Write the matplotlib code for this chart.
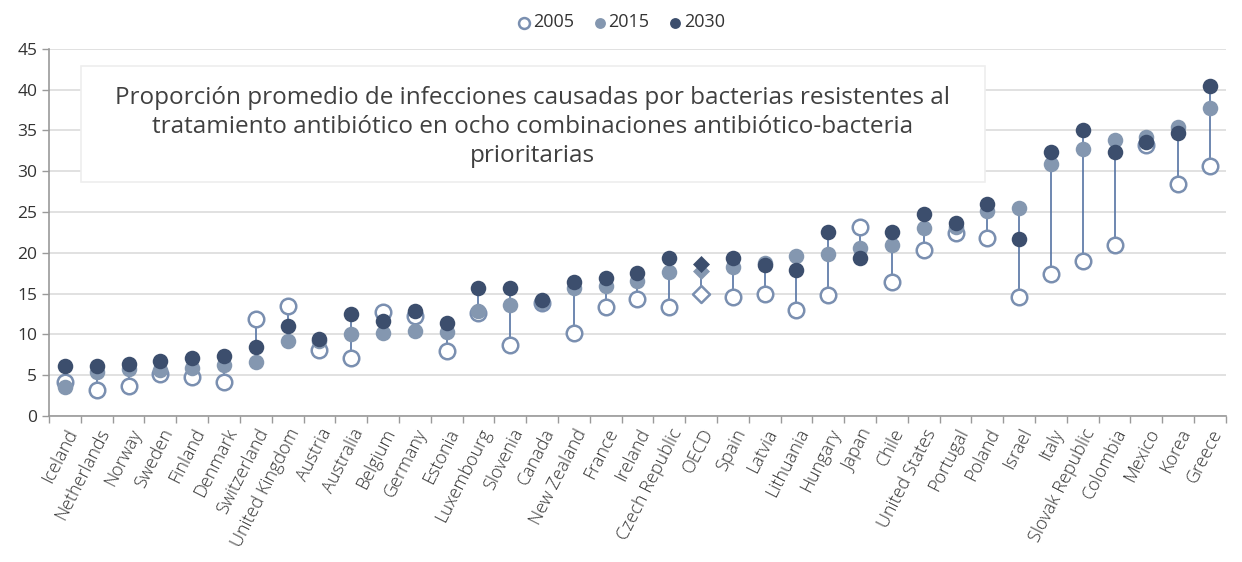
import matplotlib
matplotlib.use("Agg")
import matplotlib.pyplot as plt
import numpy as np

plt.rcParams["font.family"] = ["Open Sans", "DejaVu Sans"]

countries = ["Iceland", "Netherlands", "Norway", "Sweden", "Finland", "Denmark", "Switzerland",
             "United Kingdom", "Austria", "Australia", "Belgium", "Germany", "Estonia", "Luxembourg",
             "Slovenia", "Canada", "New Zealand", "France", "Ireland", "Czech Republic", "OECD",
             "Spain", "Latvia", "Lithuania", "Hungary", "Japan", "Chile", "United States", "Portugal",
             "Poland", "Israel", "Italy", "Slovak Republic", "Colombia", "Mexico", "Korea", "Greece"]
v2005 = [4.2, 3.2, 3.7, 5.1, 4.8, 4.2, 11.9, 13.5, 8.1, 7.1, 12.7, 12.2, 7.9, 12.6, 8.7, 13.9,
         10.2, 13.3, 14.3, 13.3, 15.0, 14.6, 15.0, 13.0, 14.8, 23.2, 16.4, 20.3, 22.4, 21.8, 14.6,
         17.4, 19.0, 21.0, 33.2, 28.4, 30.6]
v2015 = [3.6, 5.4, 5.7, 5.6, 5.9, 6.3, 6.6, 9.2, 9.2, 10.0, 10.2, 10.4, 10.3, 12.8, 13.6, 14.0,
         15.7, 15.9, 16.6, 17.7, 17.8, 18.3, 18.7, 19.6, 19.9, 20.6, 21.0, 23.0, 23.2, 25.1, 25.5,
         30.9, 32.7, 33.8, 34.2, 35.4, 37.7]
v2030 = [6.1, 6.1, 6.4, 6.7, 7.1, 7.3, 8.5, 11.0, 9.4, 12.5, 11.6, 12.8, 11.4, 15.7, 15.7, 14.2,
         16.4, 16.9, 17.5, 19.3, 18.6, 19.3, 18.5, 17.9, 22.5, 19.3, 22.5, 24.8, 23.7, 26.0, 21.7,
         32.4, 35.0, 32.3, 33.6, 34.7, 40.5]

C05 = "#7a8fb0"
C15 = "#8497b0"
C30 = "#3c4e6d"
LINE = "#5573a3"

fig = plt.figure(figsize=(12.42, 5.62), dpi=100)
ax = fig.add_axes([0.0395, 0.26, 0.9475, 0.653])

x = np.arange(len(countries))
a = np.array(v2005); b = np.array(v2015); c = np.array(v2030)
lo = np.minimum(np.minimum(a, b), c)
hi = np.maximum(np.maximum(a, b), c)
ax.vlines(x, lo, hi, color=LINE, lw=1.2, zorder=2)

oecd = countries.index("OECD")
m = np.array([i != oecd for i in x])
s = 125
ax.scatter(x[m], a[m], s=s, facecolor="white", edgecolor=C05, lw=1.8, zorder=3, label="2005")
ax.scatter(x[m], b[m], s=s, color=C15, lw=0, zorder=4, label="2015")
ax.scatter(x[m], c[m], s=s, color=C30, lw=0, zorder=5, label="2030")
ax.scatter([oecd], [a[oecd]], s=75, marker="D", facecolor="white", edgecolor=C05, lw=1.8, zorder=3)
ax.scatter([oecd], [b[oecd]], s=75, marker="D", color=C15, lw=0, zorder=4)
ax.scatter([oecd], [c[oecd]], s=75, marker="D", color=C30, lw=0, zorder=5)

ax.set_xlim(-0.5, len(countries) - 0.5)
ax.set_ylim(0, 45)
ax.set_yticks(range(0, 46, 5))
ax.grid(axis="y", color="#dcdcdc", lw=1.2)
ax.set_axisbelow(True)
for sp in ["top", "right"]:
    ax.spines[sp].set_visible(False)
for sp in ["left", "bottom"]:
    ax.spines[sp].set_color("#9a9a9a")
    ax.spines[sp].set_linewidth(1.2)
ax.tick_params(axis="y", colors="#9a9a9a", labelcolor="#333333", labelsize=12.5, length=5, width=1)
ax.set_xticks(x)
ax.set_xticklabels(countries, rotation=63, ha="right", rotation_mode="anchor",
                   fontsize=13, color="#333333", fontweight="light")
ax.set_xticks(np.arange(-0.5, len(countries)), minor=True)
ax.tick_params(axis="x", which="major", length=0, pad=7)
ax.tick_params(axis="x", which="minor", length=5, color="#9a9a9a", width=1)

# title box
ax.add_patch(plt.Rectangle((0.027, 0.638), 0.768, 0.316, transform=ax.transAxes,
                           facecolor="white", edgecolor="#eeeeee", lw=1.2, zorder=6))
ax.text(0.411, 0.787, "Proporción promedio de infecciones causadas por bacterias resistentes al\n"
        "tratamiento antibiótico en ocho combinaciones antibiótico-bacteria\nprioritarias",
        transform=ax.transAxes, ha="center", va="center", fontsize=17.5, color="#404040",
        linespacing=1.3, zorder=7)

leg = fig.legend(loc="upper center", bbox_to_anchor=(0.5, 1.005), ncol=3, frameon=False,
                 fontsize=13, handletextpad=0.1, handlelength=0.8, columnspacing=1.0,
                 markerscale=0.7)
for t in leg.get_texts():
    t.set_color("#333333")

fig.savefig("out.png", dpi=100)
